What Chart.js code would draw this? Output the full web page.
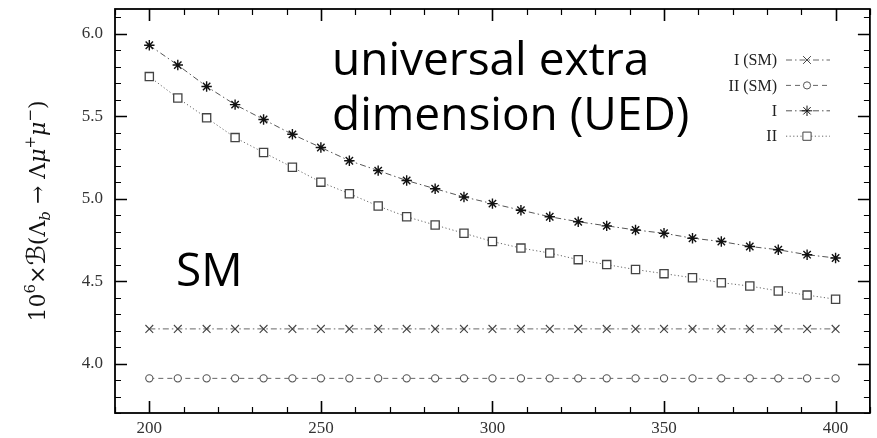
<!DOCTYPE html>
<html>
<head>
<meta charset="utf-8">
<script src="https://cdn.jsdelivr.net/npm/chart.js@4.4.0/dist/chart.umd.min.js"></script>
<style>
    html, body { margin: 0; padding: 0; background: #ffffff; }
    #wrap { width: 877px; height: 438px; }
</style>
</head>
<body>
<div id="wrap"><canvas id="brChart" width="877" height="438"></canvas></div>
<script>
// massa (eixo x) e razões de ramificação por modelo
const massas = [200, 208.3, 216.7, 225, 233.3, 241.7, 250, 258.3, 266.7, 275, 283.3, 291.7,
    300, 308.3, 316.7, 325, 333.3, 341.7, 350, 358.3, 366.7, 375, 383.3, 391.7, 400];

const smI = [4.21, 4.21, 4.21, 4.21, 4.21, 4.21, 4.21, 4.21, 4.21, 4.21, 4.21, 4.21, 4.21,
    4.21, 4.21, 4.21, 4.21, 4.21, 4.21, 4.21, 4.21, 4.21, 4.21, 4.21, 4.21];
const smII = [3.91, 3.91, 3.91, 3.91, 3.91, 3.91, 3.91, 3.91, 3.91, 3.91, 3.91, 3.91, 3.91,
    3.91, 3.91, 3.91, 3.91, 3.91, 3.91, 3.91, 3.91, 3.91, 3.91, 3.91, 3.91];
const uedI = [5.93, 5.81, 5.68, 5.57, 5.48, 5.39, 5.31, 5.23, 5.17, 5.11, 5.06, 5.01, 4.97,
    4.93, 4.89, 4.86, 4.835, 4.81, 4.79, 4.76, 4.74, 4.71, 4.69, 4.66, 4.64];
const uedII = [5.74, 5.61, 5.49, 5.37, 5.28, 5.19, 5.10, 5.03, 4.955, 4.89, 4.84, 4.79, 4.74,
    4.70, 4.67, 4.63, 4.60, 4.57, 4.545, 4.52, 4.49, 4.47, 4.44, 4.415, 4.39];

const rotulos = ["I (SM)", "II (SM)", "I", "II"];

const xTicks = [200, 250, 300, 350, 400];
const yTicks = [4.0, 4.5, 5.0, 5.5, 6.0];
const xMinor = 10;
const yMinor = 0.1;

const serif = "'Liberation Serif', 'DejaVu Serif', serif";
const serifLarga = "'DejaVu Serif', serif";

Chart.defaults.font.family = serif;
Chart.defaults.font.size = 17;

function pontos(serie) {
    return massas.map((m, i) => ({ x: m, y: serie[i] }));
}

// moldura com marcas internas nos quatro lados
const moldura = {
    id: "moldura",
    afterDatasetsDraw(chart) {
        const { ctx, chartArea: a, scales } = chart;
        const sx = scales.x, sy = scales.y;
        ctx.save();
        ctx.strokeStyle = "#000";

        for (let v = Math.ceil(sx.min / xMinor) * xMinor; v <= sx.max; v += xMinor) {
            const px = Math.round(sx.getPixelForValue(v)) + 0.5;
            const major = xTicks.includes(v);
            const len = major ? 12 : 6;
            ctx.lineWidth = major ? 1.6 : 1.2;
            ctx.beginPath();
            ctx.moveTo(px, a.bottom); ctx.lineTo(px, a.bottom - len);
            ctx.moveTo(px, a.top); ctx.lineTo(px, a.top + len);
            ctx.stroke();
        }
        for (let k = Math.ceil(sy.min / yMinor); k * yMinor <= sy.max + 1e-9; k++) {
            const v = k * yMinor;
            const py = Math.round(sy.getPixelForValue(v)) + 0.5;
            const major = yTicks.some(t => Math.abs(t - v) < 1e-6);
            const len = major ? 12 : 6;
            ctx.lineWidth = major ? 1.6 : 1.2;
            ctx.beginPath();
            ctx.moveTo(a.left, py); ctx.lineTo(a.left + len, py);
            ctx.moveTo(a.right, py); ctx.lineTo(a.right - len, py);
            ctx.stroke();
        }

        ctx.lineWidth = 1.8;
        ctx.strokeRect(a.left, a.top, a.right - a.left, a.bottom - a.top);
        ctx.restore();
    }
};

// legenda no canto superior direito: texto, traço e marcador
const legenda = {
    id: "legenda",
    afterDatasetsDraw(chart) {
        const ctx = chart.ctx;
        ctx.save();
        ctx.font = "16px " + serif;
        ctx.textAlign = "right";
        ctx.textBaseline = "middle";
        chart.data.datasets.forEach((ds, i) => {
            const y = 60 + i * 25.4;
            ctx.fillStyle = "#222";
            ctx.fillText(ds.label, 777, y + 1);

            ctx.strokeStyle = ds.borderColor;
            ctx.lineWidth = ds.borderWidth;
            ctx.setLineDash(ds.borderDash);
            ctx.beginPath();
            ctx.moveTo(786, y); ctx.lineTo(830, y);
            ctx.stroke();
            ctx.setLineDash([]);

            ctx.strokeStyle = ds.pointBorderColor;
            ctx.fillStyle = ds.pointBackgroundColor;
            Chart.helpers.drawPoint(ctx, {
                pointStyle: ds.pointStyle,
                radius: ds.pointRadius,
                rotation: 0,
                borderWidth: ds.pointBorderWidth
            }, 807, y);
        });
        ctx.restore();
    }
};

// título do eixo y com sub/sobrescritos
const tituloY = {
    id: "tituloY",
    afterDraw(chart) {
        const ctx = chart.ctx;
        const partes = [
            { t: "10", f: "22px " + serifLarga, dy: 0 },
            { t: "6", f: "15px " + serifLarga, dy: -10 },
            { t: "×", f: "22px " + serifLarga, dy: 0 },
            { t: "ℬ", f: "26px 'DejaVu Sans', serif", dy: 0 },
            { t: "(Λ", f: "22px " + serifLarga, dy: 0 },
            { t: "b", f: "italic 15px " + serifLarga, dy: 5 },
            { t: " → Λ", f: "22px " + serifLarga, dy: 0 },
            { t: "μ", f: "italic 22px " + serifLarga, dy: 0 },
            { t: "+", f: "15px " + serifLarga, dy: -10 },
            { t: "μ", f: "italic 22px " + serifLarga, dy: 0 },
            { t: "−", f: "15px " + serifLarga, dy: -10 },
            { t: ")", f: "22px " + serifLarga, dy: 0 }
        ];
        ctx.save();
        let total = 0;
        partes.forEach(p => { ctx.font = p.f; p.w = ctx.measureText(p.t).width; total += p.w; });
        ctx.translate(45, 211);
        ctx.rotate(-Math.PI / 2);
        ctx.fillStyle = "#111";
        ctx.textBaseline = "alphabetic";
        ctx.textAlign = "left";
        let x = -total / 2;
        partes.forEach(p => {
            ctx.font = p.f;
            ctx.fillText(p.t, x, p.dy);
            x += p.w;
        });
        ctx.restore();
    }
};

// anotações em texto sobre o gráfico
const anotacoes = {
    id: "anotacoes",
    afterDraw(chart) {
        const ctx = chart.ctx;
        ctx.save();
        ctx.fillStyle = "#000";
        ctx.textAlign = "left";
        ctx.textBaseline = "alphabetic";
        ctx.font = "46px 'Open Sans', sans-serif";
        ctx.fillText("universal extra", 332, 75);
        ctx.fillText("dimension (UED)", 332, 130);
        ctx.fillText("SM", 176, 286);
        ctx.restore();
    }
};

// sem folga extra para os rótulos nas pontas dos eixos
function semFolga(s) {
    s.paddingTop = 0;
    s.paddingBottom = 0;
    s.paddingLeft = 0;
    s.paddingRight = 0;
}

const ctx = document.getElementById("brChart").getContext("2d");

new Chart(ctx, {
    type: "line",
    data: {
        datasets: [
            {
                label: rotulos[0],
                data: pontos(smI),
                borderColor: "#666",
                borderWidth: 1,
                borderDash: [6, 3, 1.5, 3],
                pointStyle: "crossRot",
                pointRadius: 5.5,
                pointBorderColor: "#444",
                pointBackgroundColor: "#fff",
                pointBorderWidth: 1.1
            },
            {
                label: rotulos[1],
                data: pontos(smII),
                borderColor: "#666",
                borderWidth: 1,
                borderDash: [5, 4],
                pointStyle: "circle",
                pointRadius: 3.6,
                pointBorderColor: "#555",
                pointBackgroundColor: "#fff",
                pointBorderWidth: 1.1
            },
            {
                label: rotulos[2],
                data: pontos(uedI),
                borderColor: "#555",
                borderWidth: 1,
                borderDash: [6, 3, 1.5, 3],
                pointStyle: "star",
                pointRadius: 5.2,
                pointBorderColor: "#111",
                pointBackgroundColor: "#111",
                pointBorderWidth: 1.4
            },
            {
                label: rotulos[3],
                data: pontos(uedII),
                borderColor: "#666",
                borderWidth: 1,
                borderDash: [1.2, 2.4],
                pointStyle: "rect",
                pointRadius: 5.8,
                pointBorderColor: "#444",
                pointBackgroundColor: "#fff",
                pointBorderWidth: 1.3
            }
        ]
    },
    options: {
        responsive: false,
        animation: false,
        layout: { padding: { top: 9, right: 5, left: 0, bottom: 0 } },
        plugins: {
            legend: { display: false },
            tooltip: { enabled: false }
        },
        scales: {
            x: {
                type: "linear",
                min: 190,
                max: 410,
                afterBuildTicks: s => { s.ticks = xTicks.map(v => ({ value: v })); },
                afterFit: s => { s.height = 25; semFolga(s); },
                grid: { display: false, drawTicks: false },
                border: { display: false },
                ticks: {
                    color: "#333",
                    padding: 5,
                    font: { family: serif, size: 17 }
                }
            },
            y: {
                type: "linear",
                min: 3.7,
                max: 6.15,
                afterBuildTicks: s => { s.ticks = yTicks.map(v => ({ value: v })); },
                afterFit: s => { s.width = 115; semFolga(s); },
                grid: { display: false, drawTicks: false },
                border: { display: false },
                ticks: {
                    color: "#333",
                    padding: 12,
                    font: { family: serif, size: 17 },
                    callback: v => v.toFixed(1)
                }
            }
        }
    },
    plugins: [moldura, legenda, tituloY, anotacoes]
});
</script>
</body>
</html>
